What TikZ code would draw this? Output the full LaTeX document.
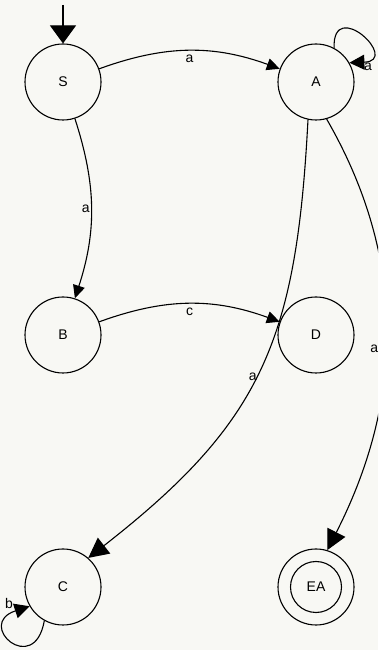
\documentclass[tikz,border=0pt]{standalone}
\usepackage{fontspec}
\setmainfont{Liberation Sans}
\usetikzlibrary{arrows.meta}
\definecolor{paper}{RGB}{248,248,244}

\begin{document}
\begin{tikzpicture}[x=1pt, y=1pt, line width=1.1pt,
    state/.style={draw, circle, minimum size=76pt, inner sep=0pt, font=\fontsize{14}{16}\selectfont},
    trans/.style={-{Triangle[length=13pt, width=12pt]}},
    looptrans/.style={-{Triangle[length=15pt, width=15pt]}},
    longtrans/.style={-{Triangle[length=20pt, width=20pt]}},
    initarrow/.style={-{Triangle[length=18pt, width=26pt]}},
    lbl/.style={font=\fontsize{14}{16}\selectfont, inner sep=1pt}]
  % ================================================================== canvas
  \useasboundingbox[fill=paper] (0,0) rectangle (378,650);
  \clip (0,0) rectangle (378,650);
  % ================================================================== states
  \node[state] (S) at (63,568) {S};
  \node[state] (A) at (316,568) {A};
  \node[state] (B) at (63,315) {B};
  \node[state] (D) at (316,315) {D};
  \node[state] (C) at (63,63) {C};
  \node[state] (EA) at (316,63) {EA};
  \node[state, minimum size=51pt] (EAin) at (EA) {};
  % ================================================================== transitions
  \coordinate (start) at (63,645);
  \draw[initarrow] (start) -- (S);
  \draw[trans] (S) to[bend left=20] node[lbl, below=3pt] {a} (A);
  \draw[trans] (S) to[bend left=18] node[lbl, left] {a} (B);
  \draw[trans] (B) to[bend left=20] node[lbl, below=3pt] {c} (D);
  \draw[longtrans] (A.-102) .. controls +(-93:221pt) and +(38:221pt) .. node[lbl, below left=1pt] {a} (C.49);
  \draw[longtrans] (A.-74) .. controls +(-60:165pt) and +(63:165pt) .. node[lbl, pos=0.52, left=6pt, yshift=-7pt] {a} (EA.73);
  % loops
  \draw[looptrans] (A.62) .. controls +(92:52pt) and +(2:52pt) .. node[lbl, pos=0.9, below right=1pt] {a} (A.30);
  \draw[looptrans] (C.-119) .. controls +(-100:58pt) and +(-162:58pt) .. node[lbl, pos=0.9, above left=2pt] {b} (C.-150);
\end{tikzpicture}
\end{document}
